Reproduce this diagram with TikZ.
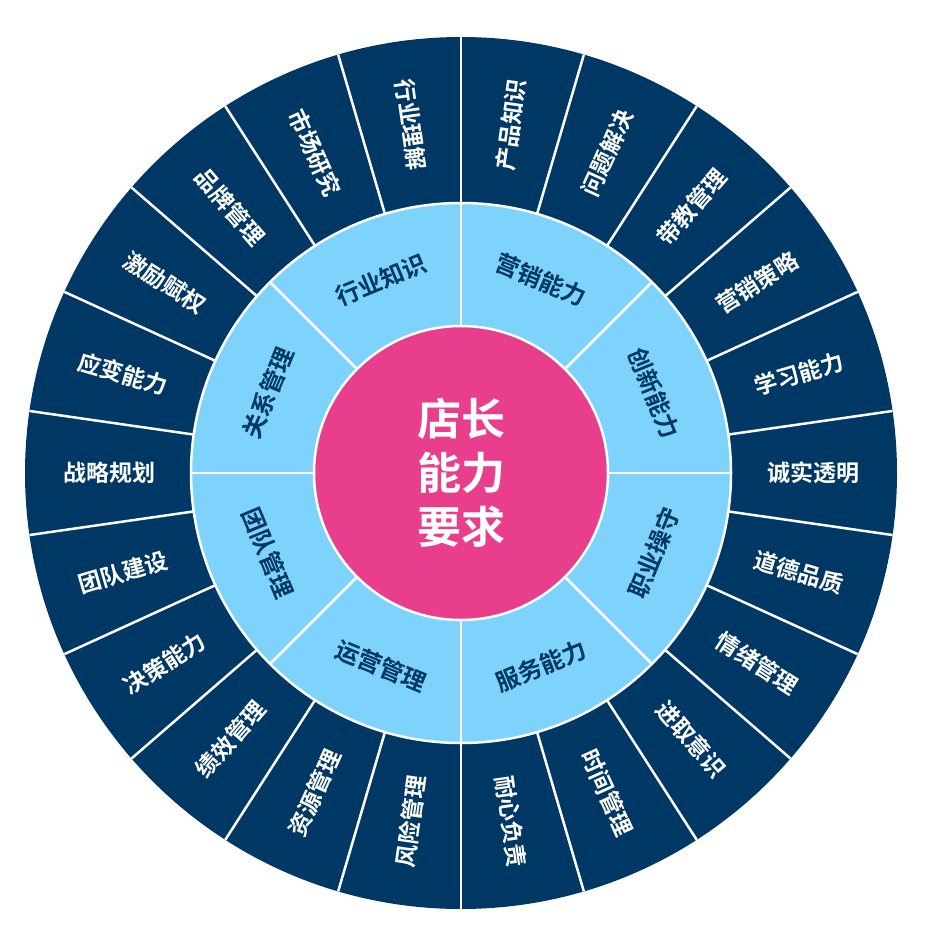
\documentclass[tikz,border=0pt]{standalone}
\usepackage{fontspec}
\usetikzlibrary{calc}
\newfontfamily\cjk{Noto Sans CJK SC}[BoldFont={Noto Sans CJK SC Bold}]
\definecolor{navy}{HTML}{003865}
\definecolor{lblue}{HTML}{7DD3FC}
\definecolor{pink}{HTML}{E83E8C}
\begin{document}
\begin{tikzpicture}[x=1pt,y=1pt,
  outer/.style={text=white,font=\cjk\bfseries\fontsize{23}{25}\selectfont,inner sep=0},
  mid/.style={text=navy,font=\cjk\bfseries\fontsize{24}{26}\selectfont,inner sep=0},
  sep/.style={white,line width=2.5}]
\useasboundingbox (0,0) rectangle (926,-950);
\coordinate (c) at (461,-473);
\fill[navy] (c) circle (436);
\fill[lblue] (c) circle (270);
\draw[sep] (c) circle (270);
\fill[pink] (c) circle (147);
\draw[sep] (c) circle (147);
\foreach \k in {0,...,21}{
  \draw[sep] ($(c)+(90+\k*360/22:270)$) -- ($(c)+(90+\k*360/22:436)$);
}
\foreach \k in {0,...,7}{
  \draw[sep] ($(c)+(90+\k*45:147)$) -- ($(c)+(90+\k*45:270)$);
}
\foreach \t [count=\i from 0] in {产品知识,问题解决,带教管理,营销策略,学习能力,诚实透明,道德品质,情绪管理,进取意识,时间管理,耐心负责,风险管理,资源管理,绩效管理,决策能力,团队建设,战略规划,应变能力,激励赋权,品牌管理,市场研究,行业理解}{
  \pgfmathsetmacro{\a}{90-(\i+0.5)*360/22}
  \pgfmathsetmacro{\rot}{(\a<-90) ? \a+180 : \a}
  \node[outer,rotate=\rot] (o\i) at ($(c)+(\a:352)$) {\t};
}
\foreach \t [count=\i from 0] in {营销能力,创新能力,职业操守,服务能力,运营管理,团队管理,关系管理,行业知识}{
  \pgfmathsetmacro{\a}{90-(\i+0.5)*45}
  \pgfmathsetmacro{\rot}{(\a>0 || \a<-180) ? \a-90 : \a+90}
  \node[mid,rotate=\rot] (m\i) at ($(c)+(\a:209)$) {\t};
}
\node[text=white,font=\cjk\bfseries\fontsize{44}{54}\selectfont,align=center] (center) at (c) {店长\\能力\\要求};
\end{tikzpicture}
\end{document}
